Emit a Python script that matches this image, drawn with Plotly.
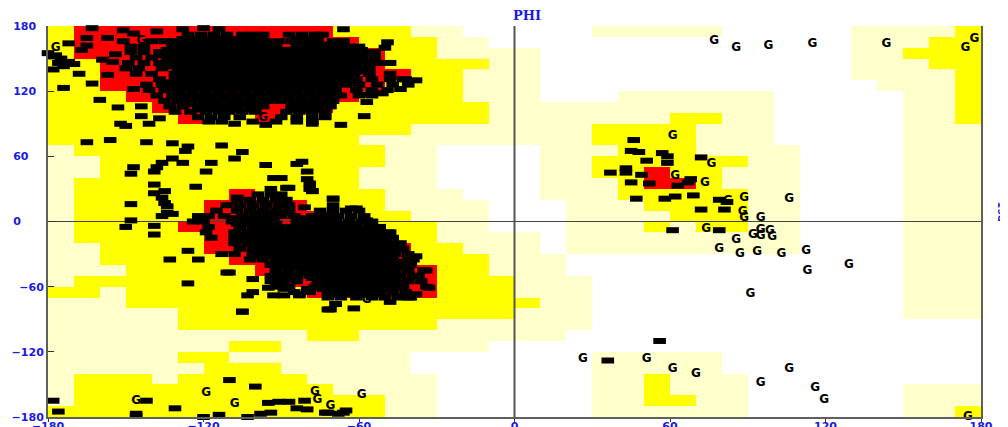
import plotly.graph_objects as go

# Ramachandran regions, one row per 10-degree psi band from +180 down to -180, run-length coded over phi
W, L, Y, R = 0, 1, 2, 3
region_rows = [
    "Y1 R10 Y3 L2 W5 L5 W5 L4 Y1",
    "Y1 R11 Y3 L2 W14 L3 Y2",
    "Y1 R12 Y2 L4 W12 L2 Y3",
    "Y2 R11 Y4 L2 W12 L3 Y2",
    "Y2 R12 Y2 L3 W12 L4 Y1",
    "Y2 R11 Y3 L3 W13 L3 Y1",
    "Y3 R9 Y4 L3 W3 L6 W5 L2 Y1",
    "Y4 R7 Y6 L11 W5 L2 Y1",
    "Y5 R1 Y2 R1 Y8 L7 Y2 L2 W5 L2 Y1",
    "Y14 L7 Y4 L3 W5 L3",
    "Y12 L9 Y4 L3 W5 L3",
    "L1 Y12 L2 W4 L3 Y3 L4 W4 L3",
    "L2 Y11 L2 W4 L2 Y6 L2 W4 L3",
    "L2 Y10 L3 W4 L2 Y2 R1 Y2 L3 W4 L3",
    "L1 Y11 L3 W4 L3 Y1 R2 Y1 L3 W4 L3",
    "L1 Y6 R1 Y5 L3 W3 L3 Y5 L2 W4 L3",
    "L1 Y5 R4 Y3 L4 W3 L3 Y4 L2 W4 L3",
    "L1 Y5 R5 Y3 L3 W3 L4 Y3 L2 W4 L3",
    "L1 Y4 R7 Y3 L2 W3 L3 Y1 L1 Y2 L2 W4 L3",
    "L1 Y5 R7 Y2 L4 W1 L9 W4 L3",
    "L2 Y4 R8 Y2 L3 W1 L9 W4 L3",
    "L2 Y5 R7 Y3 L3 W13 L3",
    "L3 Y5 R7 Y2 L3 W13 L3",
    "L1 Y8 R6 Y3 L3 W12 L3",
    "Y2 L1 Y7 R5 Y3 L3 W12 L3",
    "L3 Y15 Y1 L2 W12 L3",
    "L5 Y13 L3 W12 L3",
    "L5 Y10 L6 W15",
    "L10 Y2 L8 W16",
    "L7 Y2 L8 W19",
    "L5 Y2 L7 W7 L5 W10",
    "L6 Y3 L5 W7 L5 W10",
    "L1 Y3 L1 Y5 L5 W6 L2 Y1 L3 W9",
    "L1 Y10 L4 W6 L2 Y1 L3 W6 L3",
    "L1 Y12 L2 W6 L2 Y2 L2 W6 L3",
    "Y13 L2 W6 L6 W6 L2 Y1",
]
phi_centres = [-175 + 10 * i for i in range(36)]
psi_centres = [175 - 10 * i for i in range(36)]

# Residues read as individual marks (phi, psi)
scattered_residues = [
    (-163,178),(-151,176),(-128,177),(-120,178),(-114,177),(-165,169),(-157,169),(-138,175),(-147,173),(-151,166),
    (-172,164),(-165,162),(-167,158),(-154,154),(-159,149),(-155,147),(-157,135),(-147,122),(-168,136),(-163,127),
    (-174,123),(-160,112),(-153,105),(-144,106),(-144,97),(-137,95),(-141,90),(-152,90),(-150,88),
    (-180,155),(-177,153),(-175,150),(-172,147),(-178,140),(-174,143),(-176,146),(-170,145),(-178,152),
    (-165,73),(-156,75),(-142,73),(-132,72),(-126,69),(-127,65),(-113,70),(-105,64),(-108,58),(-132,58),(-128,54),
    (-136,54),(-138,50),(-139,46),(-147,50),(-148,44),(-117,54),(-119,46),(-96,52),(-82,55),(-84,53),(-80,46),
    (-93,40),(-90,40),(-80,39),(-79,35),(-79,30),(-78,28),(-94,30),(-87,31),(-123,32),(-139,34),(-139,26),(-135,28),
    (-136,22),(-135,17),(-134,14),(-134,8),(-148,16),(-70,21),
    (-148,1),(-150,-5),(-139,-4),(-139,-12),(-136,5),(-132,7),(-126,-27),(-133,-35),(-122,-35),(-110,-47),(-126,-57),
    (-101,-53),(-95,-61),(-101,-65),(-103,-68),(-93,-68),(-89,-68),(-83,-68),(-105,-83),(-72,-81),(-69,-76),(-89,-62),
    (-178,-165),(-176,-175),(-146,-177),(-146,-179),(-142,-165),(-131,-172),(-120,-180),(-114,-178),(-110,-146),
    (-100,-152),(-103,-180),(-94,-176),(-98,-177),(-95,-167),(-91,-166),(-87,-166),(-81,-165),(-84,-172),(-80,-173),
    (-73,-176),(-68,-177),(-65,-174),(-72,-176),(-66,-176),
    (46,75),(45,65),(48,64),(57,63),(59,60),(51,56),(59,54),(72,59),(43,49),(43,45),(37,45),(49,43),(45,36),(52,35),
    (68,39),(67,36),(63,33),(47,21),(58,21),(62,23),(69,24),(79,20),(82,18),(72,11),(81,11),(61,-8),(79,-8),
    (36,-128),(56,-110),
    (-49,165),(-50,160),(-66,177),(-48,146),(-44,122),(-57,110),(-58,97),(-67,89),(-78,90),(-96,89),(-108,90),
    (-38,130),(-43,131),(-51,118),(-58,117),(-54,156),
    (-88,31),(-78,28),(-70,21),(-107,22),(-81,13),(-111,-47),(-83,-67),(-69,-76),(-71,-81),(-62,-80),(-105,-83),
    (-49,-10),(-63,12),(-61,12),(-57,1),(-33,-61),(-34,-45),(-39,-50),(-38,-32),(-45,-24),(-48,-74),(-41,-70),(-38,-67),
]

# Dense clusters: psi of each horizontal band and the phi values read along it
beta_psi = [172, 166, 161, 156, 151, 146, 141, 136, 131, 126, 121, 116, 111, 106, 101, 96, 92]
beta_phi = [
    [-126,-121,-116,-111,-105,-101,-97,-87,-82,-77,-74],
    [-140,-135,-131,-126,-121,-116,-111,-106,-101,-96,-91,-86,-81,-76,-70,-66],
    [-148,-143,-132,-127,-122,-117,-112,-107,-102,-97,-92,-84,-79,-74,-69,-64,-60],
    [-148,-143,-137,-132,-127,-122,-117,-112,-107,-102,-97,-92,-87,-82,-77,-72,-67,-62,-57,-55],
    [-146,-140,-134,-129,-124,-119,-114,-109,-104,-99,-94,-89,-84,-79,-74,-69,-64,-59,-54],
    [-149,-143,-137,-131,-126,-121,-116,-111,-106,-101,-96,-91,-86,-81,-76,-71,-66,-61,-56,-52],
    [-150,-145,-136,-130,-125,-120,-115,-110,-105,-100,-95,-90,-85,-80,-75,-70,-65,-60,-56],
    [-146,-140,-131,-127,-122,-117,-112,-107,-102,-97,-92,-87,-82,-77,-72,-67,-62,-56,-48],
    [-137,-131,-126,-121,-116,-111,-106,-101,-96,-91,-86,-81,-76,-71,-66,-61,-55,-48,-42],
    [-142,-136,-130,-125,-120,-115,-110,-105,-100,-95,-90,-85,-80,-75,-70,-65,-60,-53,-47,-41],
    [-141,-135,-129,-124,-119,-114,-109,-104,-99,-94,-89,-84,-79,-74,-69,-61,-55,-49],
    [-138,-132,-127,-122,-117,-112,-107,-102,-97,-92,-87,-82,-77,-72,-67,-60,-55],
    [-135,-130,-125,-120,-115,-110,-105,-100,-95,-90,-85,-80,-75,-70],
    [-133,-128,-122,-117,-112,-107,-102,-97,-86,-81,-76,-71],
    [-131,-125,-119,-114,-110,-105,-100,-88,-83,-78,-73],
    [-122,-117,-112,-106,-90,-84,-78,-73],
    [-118,-113,-101,-92,-84,-78],
]
beta_core_psi = [168, 163, 158, 153, 148, 143, 138, 133, 128, 123, 118, 113, 108, 103]
beta_core_phi = [
    [-128,-123,-118,-113,-108,-103,-98,-84,-80,-76],
    [-129,-124,-119,-114,-109,-104,-99,-94,-81,-76,-71,-66],
    [-134,-129,-124,-119,-114,-109,-104,-99,-94,-89,-84,-79,-74,-69,-64,-59],
    [-137,-131,-126,-121,-116,-111,-106,-101,-96,-91,-86,-81,-76,-71,-66,-61],
    [-134,-128,-123,-118,-113,-108,-103,-98,-93,-88,-83,-78,-73,-68,-63,-58],
    [-133,-127,-122,-117,-112,-107,-102,-97,-92,-87,-82,-77,-72,-67,-62],
    [-128,-124,-119,-114,-109,-104,-99,-94,-89,-84,-79,-74,-69,-64,-58],
    [-128,-123,-118,-113,-108,-103,-98,-93,-88,-83,-78,-73,-68,-63],
    [-133,-127,-122,-117,-112,-107,-102,-97,-92,-87,-82,-77,-72,-67,-62],
    [-132,-126,-121,-116,-111,-106,-101,-96,-91,-86,-81,-76,-71],
    [-130,-124,-119,-114,-109,-104,-99,-94,-89,-84,-79,-74,-69],
    [-127,-122,-117,-112,-107,-102,-97,-92,-87,-82,-77,-72],
    [-125,-119,-114,-109,-104,-99,-84,-79,-74],
    [-122,-116,-111,-107,-102,-86,-81,-76],
]
alpha_psi = [25, 20, 15, 10, 5, 0, -5, -10, -15, -20, -25, -30, -35, -40, -45, -50, -55, -60, -65, -70]
alpha_phi = [
    [-99,-94,-90],
    [-107,-102,-97,-92,-88],
    [-111,-106,-101,-96,-91,-87,-70],
    [-115,-107,-102,-97,-92,-87,-75,-70,-65,-60],
    [-122,-118,-112,-105,-100,-95,-90,-85,-78,-73,-68,-63,-58],
    [-124,-120,-109,-104,-99,-94,-84,-79,-74,-69,-64,-59,-55],
    [-118,-106,-101,-96,-91,-86,-81,-76,-71,-66,-61,-56,-52],
    [-119,-108,-103,-98,-93,-88,-83,-78,-73,-68,-63,-58,-53,-48],
    [-117,-108,-103,-98,-93,-88,-83,-78,-73,-68,-63,-58,-53,-47],
    [-108,-103,-98,-93,-88,-83,-78,-73,-68,-63,-58,-53,-47,-44],
    [-106,-101,-96,-91,-86,-81,-76,-71,-66,-61,-56,-51,-46,-43],
    [-113,-108,-101,-96,-91,-86,-81,-76,-71,-66,-61,-56,-51,-46,-41],
    [-102,-97,-92,-87,-82,-77,-72,-67,-62,-57,-52,-47,-41,-39],
    [-94,-89,-84,-79,-74,-69,-64,-59,-54,-49,-44,-40],
    [-92,-87,-82,-77,-72,-67,-62,-57,-52,-47,-41,-35],
    [-94,-89,-84,-79,-74,-69,-64,-59,-54,-49,-44,-37],
    [-94,-89,-84,-76,-71,-66,-61,-56,-51,-46,-41,-36],
    [-92,-87,-77,-72,-67,-62,-57,-52,-47,-43,-34],
    [-85,-79,-72,-67,-62,-57,-52,-47,-42],
    [-72,-67,-61,-55,-50,-45,-40],
]
alpha_core_psi = [8, 3, -2, -7, -12, -17, -22, -27, -32, -37, -42, -47, -52, -57, -62, -67]
alpha_core_phi = [
    [-100,-95,-90],
    [-108,-103,-98,-93,-81,-76,-71],
    [-107,-102,-97,-92,-81,-76,-71,-66,-61],
    [-100,-95,-90,-85,-80,-75,-70,-65,-60,-55],
    [-105,-100,-95,-90,-85,-80,-75,-70,-65,-60,-55,-50],
    [-105,-100,-95,-90,-85,-80,-75,-70,-65,-60,-55,-50],
    [-100,-95,-90,-85,-80,-75,-70,-65,-60,-55,-50],
    [-97,-92,-87,-82,-77,-72,-67,-62,-57,-52,-47],
    [-98,-93,-88,-83,-78,-73,-68,-63,-58,-53,-48],
    [-90,-85,-80,-75,-70,-65,-60,-55,-50,-45],
    [-90,-85,-80,-75,-70,-65,-60,-55,-50,-45],
    [-92,-87,-81,-76,-71,-66,-61,-56,-51,-46],
    [-92,-87,-78,-73,-68,-63,-58,-53,-48],
    [-90,-75,-70,-65,-60,-55,-50,-45],
    [-80,-74,-69,-64,-59,-54,-49],
    [-70,-64,-59,-54],
]

# Glycines, drawn as the letter G
glycines = [
    (77,166),(85.5,160),(98,162),(115,163),(143.5,163),(174,159.5),(177.5,168),(61,79),(76,53),(62,41.5),(73.5,35),
    (88.6,22),(106,21),(82.4,19),(88,9),(88.6,3.6),(95,3),(74,-6.5),(95,-7.4),(98.6,-9),(92,-12),(95,-13),(99.4,-14),
    (85.5,-16.6),(79,-25),(87,-30),(93.6,-28.5),(103,-29.5),(112.5,-27),(129,-40),(113,-46),(91,-67),(61,-136),(70,-140),
    (106,-136),(95,-149),(116,-153),(119.5,-164),(175,-180),(26.4,-127),(51,-127),(-59,-160),(-57,-72),
    (-119,-158),(-108,-168),(-77,-157),(-76,-164),(-71,-170),(-94,-183),(-146,-165),(-177,160),(-97,95),(-144,166),
]

tick_values = [-180, -120, -60, 0, 60, 120, 180]
x_tick_labels = ["\u2212180", "\u2212120", "\u221260", "0", "60", "120", "180"]
y_tick_labels = ["\u2212180", "\u2212120", "\u221260", "0\u2007\u2007\u2007", "60\u2007\u2007", "120\u2007", "180\u2007"]

codes = {"W": W, "L": L, "Y": Y, "R": R}
grid = []
for row in region_rows:
    cells = []
    for run in row.split():
        cells += [codes[run[0]]] * int(run[1:])
    assert len(cells) == 36, row
    grid.append(cells)

res_phi = [p for p, _ in scattered_residues]
res_psi = [q for _, q in scattered_residues]
bands = (list(zip(beta_psi, beta_phi)) + list(zip(beta_core_psi, beta_core_phi))
         + list(zip(alpha_psi, alpha_phi)) + list(zip(alpha_core_psi, alpha_core_phi)))
for psi_value, phis in bands:
    res_phi += phis
    res_psi += [psi_value] * len(phis)

BLUE = "#1a1ae6"
AXIS = "#5f5f5f"
fig = go.Figure()
fig.add_trace(go.Heatmap(
    x=phi_centres, y=psi_centres, z=grid, zmin=0, zmax=3, showscale=False, hoverinfo="skip",
    colorscale=[[0, "#ffffff"], [0.25, "#ffffff"], [0.25, "#ffffcc"], [0.5, "#ffffcc"],
                [0.5, "#ffff00"], [0.75, "#ffff00"], [0.75, "#ff0000"], [1, "#ff0000"]],
))
fig.add_trace(go.Scatter(x=[0, 0], y=[-180, 180], mode="lines", line=dict(color="#555555", width=2), hoverinfo="skip"))
fig.add_trace(go.Scatter(x=[-180, 180], y=[0, 0], mode="lines", line=dict(color="#444444", width=1), hoverinfo="skip"))
fig.add_trace(go.Scatter(
    x=[g[0] for g in glycines], y=[g[1] for g in glycines], mode="text", text=["G"] * len(glycines),
    textfont=dict(family="DejaVu Sans", size=12, color="#000000", weight="bold"), cliponaxis=False, hoverinfo="skip",
))
fig.add_trace(go.Scatter(
    x=res_phi, y=res_psi, mode="markers", cliponaxis=False, hoverinfo="skip",
    marker=dict(symbol="line-ew", size=9, color="#000000", line=dict(color="#000000", width=6)),
))
fig.update_layout(
    width=1000, height=419, margin=dict(l=40, r=27, t=18, b=10), showlegend=False,
    paper_bgcolor="#ffffff", plot_bgcolor="#ffffff",
    font=dict(family="DejaVu Sans", size=11, color=BLUE, weight="bold"),
    annotations=[
        dict(text="PHI", x=0.513, y=1.0, xref="paper", yref="paper", yanchor="bottom", showarrow=False, yshift=1,
             font=dict(family="DejaVu Serif", size=13, color=BLUE, weight="bold")),
        dict(text="PSI", x=1.0, y=0.525, xref="paper", yref="paper", xanchor="center", textangle=-90, showarrow=False,
             xshift=22, font=dict(family="DejaVu Sans Mono", size=11, color=BLUE, weight="bold")),
    ],
)
fig.update_xaxes(range=[-180, 180], tickvals=tick_values, ticktext=x_tick_labels, ticks="outside", ticklen=3,
                 tickcolor="#333333", showgrid=False, zeroline=False, showline=True, linecolor=AXIS, linewidth=2,
                 mirror=False, tickangle=0, ticklabelstandoff=-5, automargin=False)
fig.update_yaxes(range=[-180, 180], tickvals=tick_values, ticktext=y_tick_labels, ticks="inside", ticklen=6,
                 tickcolor="#333333", showgrid=False, zeroline=False, showline=True, linecolor=AXIS, linewidth=2,
                 mirror=True, automargin=False)
fig.write_html("out.html")
